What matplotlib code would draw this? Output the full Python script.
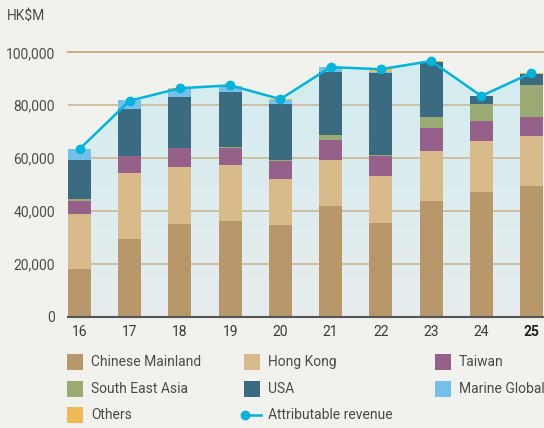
import matplotlib
matplotlib.use("Agg")
import matplotlib.pyplot as plt
import numpy as np
from matplotlib.patches import Rectangle, Polygon
from matplotlib.lines import Line2D
from matplotlib.colors import LinearSegmentedColormap

years = ["16", "17", "18", "19", "20", "21", "22", "23", "24", "25"]
chinese_mainland = [18000, 29400, 35100, 36200, 34700, 41900, 35400, 43800, 47200, 49400]
hong_kong = [20800, 25000, 21500, 21200, 17400, 17400, 17800, 18900, 19300, 18900]
taiwan = [5000, 6400, 7200, 6400, 6800, 7500, 7600, 8700, 7500, 7200]
south_east_asia = [700, 0, 0, 400, 400, 1900, 400, 4100, 6500, 12100]
usa = [14800, 17800, 19300, 20800, 21200, 24000, 31100, 20800, 3000, 4200]
marine_global = [4100, 3400, 3000, 1900, 1500, 1700, 400, 0, 0, 0]
others = [0, 0, 400, 500, 300, 0, 800, 400, 0, 400]
attributable_revenue = [63400, 81700, 86400, 87500, 82300, 94400, 93600, 96700, 83500, 92200]

series_labels = ["Chinese Mainland", "Hong Kong", "Taiwan", "South East Asia", "USA",
                 "Marine Global", "Others"]
series_values = [chinese_mainland, hong_kong, taiwan, south_east_asia, usa, marine_global, others]
series_colors = ["#b8986a", "#d9ba8a", "#956089", "#99aa72", "#3b6b80", "#73c0ea", "#f0b955"]
line_label = "Attributable revenue"
line_color = "#00b4db"

plt.rcParams['font.family'] = ['Roboto', 'DejaVu Sans']

W, H = 544, 428
fig = plt.figure(figsize=(W / 100, H / 100), dpi=100)
bg = "#f1f1ed"
fig.patch.set_facecolor(bg)

ax_l, ax_r = 68 / W, 543 / W
ax_b, ax_t = (H - 316.7) / H, (H - 52.3) / H
ax = fig.add_axes([ax_l, ax_b, ax_r - ax_l, ax_t - ax_b])
ax.set_facecolor(bg)

x = np.arange(len(years))
bw = 0.458
ax.set_xlim(-bw / 2, len(years) - 1 + bw / 2)
ax.set_ylim(0, 100000)

# gradient fill under revenue line
grad = np.linspace(0, 1, 256).reshape(-1, 1)
cmap = LinearSegmentedColormap.from_list("g", ["#e7eded", "#d3ecf0"])
im = ax.imshow(grad, extent=[x[0], x[-1], 0, max(attributable_revenue)], origin="lower",
               aspect="auto", cmap=cmap, zorder=0.5)
poly_pts = [(x[0], 0)] + list(zip(x, attributable_revenue)) + [(x[-1], 0)]
poly = Polygon(poly_pts, closed=True, transform=ax.transData, facecolor="none", edgecolor="none")
ax.add_patch(poly)
im.set_clip_path(poly)

# grid lines
for gv in [20000, 40000, 60000, 80000]:
    ax.axhline(gv, color="#cbbd9c", lw=1.3, zorder=1)
ax.axhline(100000, color="#c8a979", lw=1.3, zorder=1, clip_on=False)

bottom = np.zeros(len(years))
for lab, vals, col in zip(series_labels, series_values, series_colors):
    ax.bar(x, vals, bw, bottom=bottom, color=col, zorder=2, linewidth=0)
    bottom += np.array(vals)

ax.plot(x, attributable_revenue, color=line_color, lw=1.8, marker="o", markersize=6,
        zorder=4, clip_on=False)

for s in ["top", "right", "left"]:
    ax.spines[s].set_visible(False)
ax.spines["bottom"].set_color("#555555")
ax.spines["bottom"].set_linewidth(1.5)
ax.spines["bottom"].set_zorder(5)

ax.set_yticks([0, 20000, 40000, 60000, 80000, 100000])
ax.set_yticklabels(["0", "20,000", "40,000", "60,000", "80,000", "100,000"])
ax.tick_params(axis="y", length=0, pad=9.5, labelsize=10, labelcolor="#4d4d4d")
ax.set_xticks(x)
ax.set_xticklabels(years)
ax.tick_params(axis="x", length=0, pad=6, labelsize=10, labelcolor="#3a3a3a")
ax.get_xticklabels()[-1].set_fontweight("bold")
ax.get_xticklabels()[-1].set_color("#222222")

fig.text(7 / W, 1 - 16 / H, "HK$M", fontsize=10, color="#4d4d4d", va="center", ha="left")

# legend
col_x = [67, 244, 435]
row_y = [362, 389, 415]
entries = [(l, c) for l, c in zip(series_labels, series_colors)] + [(line_label, None)]
for i, (lab, col) in enumerate(entries):
    r, c = divmod(i, 3)
    px, py = col_x[c], row_y[r]
    if col is not None:
        fig.patches.append(Rectangle((px / W, 1 - (py + 8) / H), 16 / W, 16 / H,
                                     transform=fig.transFigure, facecolor=col,
                                     edgecolor="none"))
    else:
        fig.lines.append(Line2D([(px + 1) / W, (px + 17) / W], [1 - py / H, 1 - py / H],
                                transform=fig.transFigure, color=line_color, lw=1.8))
        fig.lines.append(Line2D([(px + 1) / W], [1 - py / H], transform=fig.transFigure,
                                color=line_color, marker="o", markersize=6))
    fig.text((px + 24) / W, 1 - py / H, lab, fontsize=10, color="#4a4a4a",
             va="center", ha="left")

fig.savefig("out.png", dpi=100, facecolor=bg)
